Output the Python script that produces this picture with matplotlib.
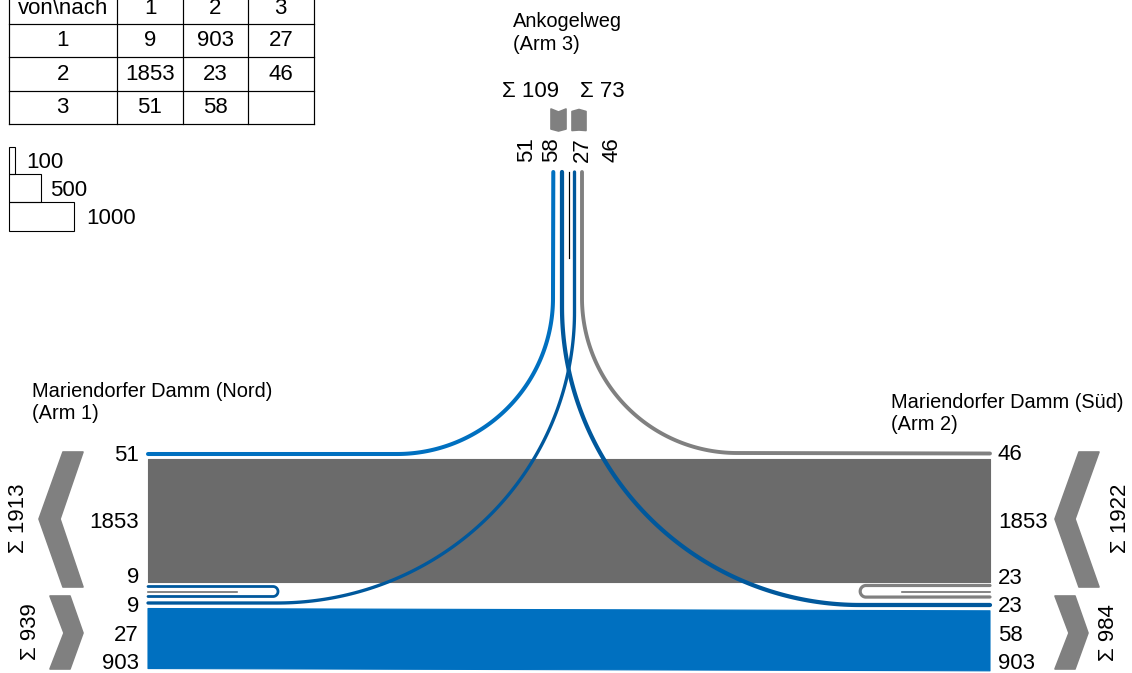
import numpy as np
import matplotlib
matplotlib.use("Agg")
import matplotlib.pyplot as plt
from matplotlib.patches import Polygon, Rectangle

# ---------------- data ----------------
arm_names = ["Mariendorfer Damm (Nord)", "Mariendorfer Damm (Süd)", "Ankogelweg"]
arm_tags = ["(Arm 1)", "(Arm 2)", "(Arm 3)"]
arm_ids = ["1", "2", "3"]
# flows[von][nach]
flows = [[9, 903, 27],
         [1853, 23, 46],
         [51, 58, None]]
scale_values = [100, 500, 1000]

# ---------------- style ----------------
LBLUE = "#0070C0"
DBLUE = "#00589C"
DGRAY = "#6B6B6B"
LGRAY = "#808080"
FONT = "Liberation Sans"
plt.rcParams["font.family"] = [FONT, "DejaVu Sans"]
NUM_FS = 16
LAB_FS = 14.4
K = 0.0665  # px per vehicle for bands


def lw_px(v):
    return 2.5 + 0.03 * v


def pt(px):
    return px * 72 / 100


fig = plt.figure(figsize=(11.32, 6.73), dpi=100)
ax = fig.add_axes([0, 0, 1, 1])
ax.set_xlim(0, 1132)
ax.set_ylim(673, 0)
ax.axis("off")


def arc(cx, cy, rx, ry, t0, t1, n=120):
    t = np.linspace(t0, t1, n)
    return cx + rx * np.cos(t), cy + ry * np.sin(t)


def path_line(xs, ys, color, lwpx, z=3, cap="round"):
    ax.plot(xs, ys, color=color, lw=pt(lwpx), solid_capstyle=cap,
            solid_joinstyle="round", zorder=z)


# ---------------- bands ----------------
v21 = flows[1][0]
v12 = flows[0][1]
top_g = 458.5
ax.add_patch(Polygon([(148, top_g), (990, top_g), (990, top_g + v21 * K),
                      (148, top_g + v21 * K)], closed=True, fc=DGRAY, ec=DGRAY,
                     lw=0.8, joinstyle="round", zorder=2))
ax.add_patch(Polygon([(148, 608.5), (990, 610.8), (990, 610.8 + v12 * K),
                      (148, 608.5 + v12 * K)], closed=True, fc=LBLUE, ec=LBLUE,
                     lw=0.8, joinstyle="round", zorder=2))

# ---------------- curved flows ----------------
TOP = 172
# 3 -> 1 (51)
x, y = arc(397, 298, 156, 156, np.pi / 2, 0)
path_line(np.r_[148, x, 553.3], np.r_[454, y, TOP], LBLUE, lw_px(flows[2][0]))
# 2 -> 3 (46)
x, y = arc(737, 298, 155, 155, np.pi / 2, np.pi)
path_line(np.r_[990, x, 582], np.r_[453.5, y, TOP], LGRAY, lw_px(flows[1][2]))
# 1 -> 3 (27)
x, y = arc(277, 312, 297.5, 291, np.pi / 2, 0)
path_line(np.r_[148, x, 574.5], np.r_[603, y, TOP], DBLUE, lw_px(flows[0][2]), z=4)
# 3 -> 2 (58)
x, y = arc(860, 307, 298, 298, np.pi / 2, np.pi)
path_line(np.r_[990, x, 562], np.r_[605, y, TOP], DBLUE, lw_px(flows[2][1]), z=4)
# separator at arm 3
ax.plot([569, 569], [TOP, 258], color="black", lw=pt(1.2), zorder=3)

# ---------------- U-turns ----------------
x, y = arc(273, 591.5, 5, 5, -np.pi / 2, np.pi / 2)
path_line(np.r_[148, x, 148], np.r_[586.5, y, 596.5], DBLUE, lw_px(flows[0][0]))
ax.plot([148, 237], [591.7, 591.7], color=DGRAY, lw=pt(1.6), zorder=3)
x, y = arc(866, 591.3, 5.8, 5.8, -np.pi / 2, -3 * np.pi / 2)
path_line(np.r_[990, x, 990], np.r_[585.5, y, 597], LGRAY, lw_px(flows[1][1]))
ax.plot([902, 990], [591.7, 591.7], color=DGRAY, lw=pt(1.6), zorder=3)

# ---------------- chevrons ----------------
def chev(pts):
    ax.add_patch(Polygon(pts, closed=True, fc=LGRAY, ec=LGRAY, lw=1.2,
                         joinstyle="round", zorder=2))

chev([(63, 452), (83, 452), (60, 519), (83, 587), (63, 587), (39, 519)])
chev([(50, 596), (70, 596), (83, 633), (70, 669), (50, 669), (64, 633)])
chev([(1079, 452), (1099, 452), (1075, 519), (1099, 587), (1079, 587), (1055, 519)])
chev([(1055, 596), (1075, 596), (1088, 633), (1075, 669), (1055, 669), (1069, 633)])
chev([(551, 109), (558.5, 112), (566, 109), (566, 129), (558.5, 131), (551, 129)])
chev([(572, 111.5), (579, 109.5), (586, 111.5), (586, 130.5), (579, 130), (572, 130.5)])

# ---------------- sums ----------------
in1 = [flows[2][0], flows[1][0], flows[0][0]]
out1 = [flows[0][0], flows[0][2], flows[0][1]]
out2 = [flows[1][2], flows[1][0], flows[1][1]]
in2 = [flows[1][1], flows[2][1], flows[0][1]]
in3 = [flows[0][2], flows[1][2]]
out3 = [flows[2][0], flows[2][1]]

# ---------------- number labels ----------------
def num(xp, yc, s, ha):
    ax.text(xp, yc + 8, s, ha=ha, va="baseline", fontsize=NUM_FS, zorder=5)

for yc, v in zip([453, 519.5, 575, 604, 633, 661], in1 + out1):
    num(139, yc, str(v), "right")
for yc, v in zip([452.5, 519.5, 575.5, 604.5, 633, 661], out2 + in2):
    num(998, yc, str(v), "left")

top_vals = out3 + in3
for xc, v in zip([524.5, 549.5, 580, 609.5], top_vals):
    ax.text(xc + 8, 150, str(v), rotation=90, rotation_mode="anchor",
            ha="center", va="baseline", fontsize=NUM_FS, zorder=5)

def rsum(xc, yc, v):
    ax.text(xc + 8, yc, "Σ " + str(v), rotation=90, rotation_mode="anchor",
            ha="center", va="baseline", fontsize=NUM_FS, zorder=5)

rsum(16.5, 518, sum(in1))
rsum(27.5, 632, sum(out1))
rsum(1118.5, 518, sum(out2))
rsum(1106.5, 633, sum(in2))
ax.text(531, 97, "Σ " + str(sum(out3)), ha="center", va="baseline", fontsize=NUM_FS)
ax.text(602.5, 97, "Σ " + str(sum(in3)), ha="center", va="baseline", fontsize=NUM_FS)

# ---------------- arm labels ----------------
ax.text(32, 397, arm_names[0], fontsize=LAB_FS, va="baseline")
ax.text(32, 419, arm_tags[0], fontsize=LAB_FS, va="baseline")
ax.text(891, 408, arm_names[1], fontsize=LAB_FS, va="baseline")
ax.text(891, 430, arm_tags[1], fontsize=LAB_FS, va="baseline")
ax.text(513, 27, arm_names[2], fontsize=LAB_FS, va="baseline")
ax.text(513, 50, arm_tags[2], fontsize=LAB_FS, va="baseline")

# ---------------- table ----------------
col_x = [8.5, 117, 183, 248, 313.5]
row_y = [-9, 24, 57, 90.5, 124]
for xv in col_x:
    ax.plot([xv, xv], [row_y[0], row_y[-1]], color="black", lw=pt(1.2), zorder=5)
for yv in row_y:
    ax.plot([col_x[0], col_x[-1]], [yv, yv], color="black", lw=pt(1.2), zorder=5)
header = ["von\\nach"] + arm_ids
rows = [[arm_ids[i]] + ["" if v is None else str(v) for v in flows[i]] for i in range(3)]
cells = [header] + rows
for r, row in enumerate(cells):
    yc = (row_y[r] + row_y[r + 1]) / 2 - 2
    for c, s in enumerate(row):
        xc = (col_x[c] + col_x[c + 1]) / 2
        ax.text(xc, yc + 8, s, ha="center", va="baseline", fontsize=NUM_FS, zorder=5)

# ---------------- scale legend ----------------
leg_y = [147, 174, 202]
leg_h = [27, 28, 29]
leg_lab = [(26, 160), (50, 187.5), (86, 216)]
for v, y0, h, (lx, ly) in zip(scale_values, leg_y, leg_h, leg_lab):
    w = 0.0645 * v + 0.5
    ax.add_patch(Rectangle((8.5, y0), w, h, fc="none", ec="black", lw=pt(1.1), zorder=5))
    ax.text(lx, ly + 8, str(v), ha="left", va="baseline", fontsize=NUM_FS)

fig.savefig("out.png", dpi=100)
